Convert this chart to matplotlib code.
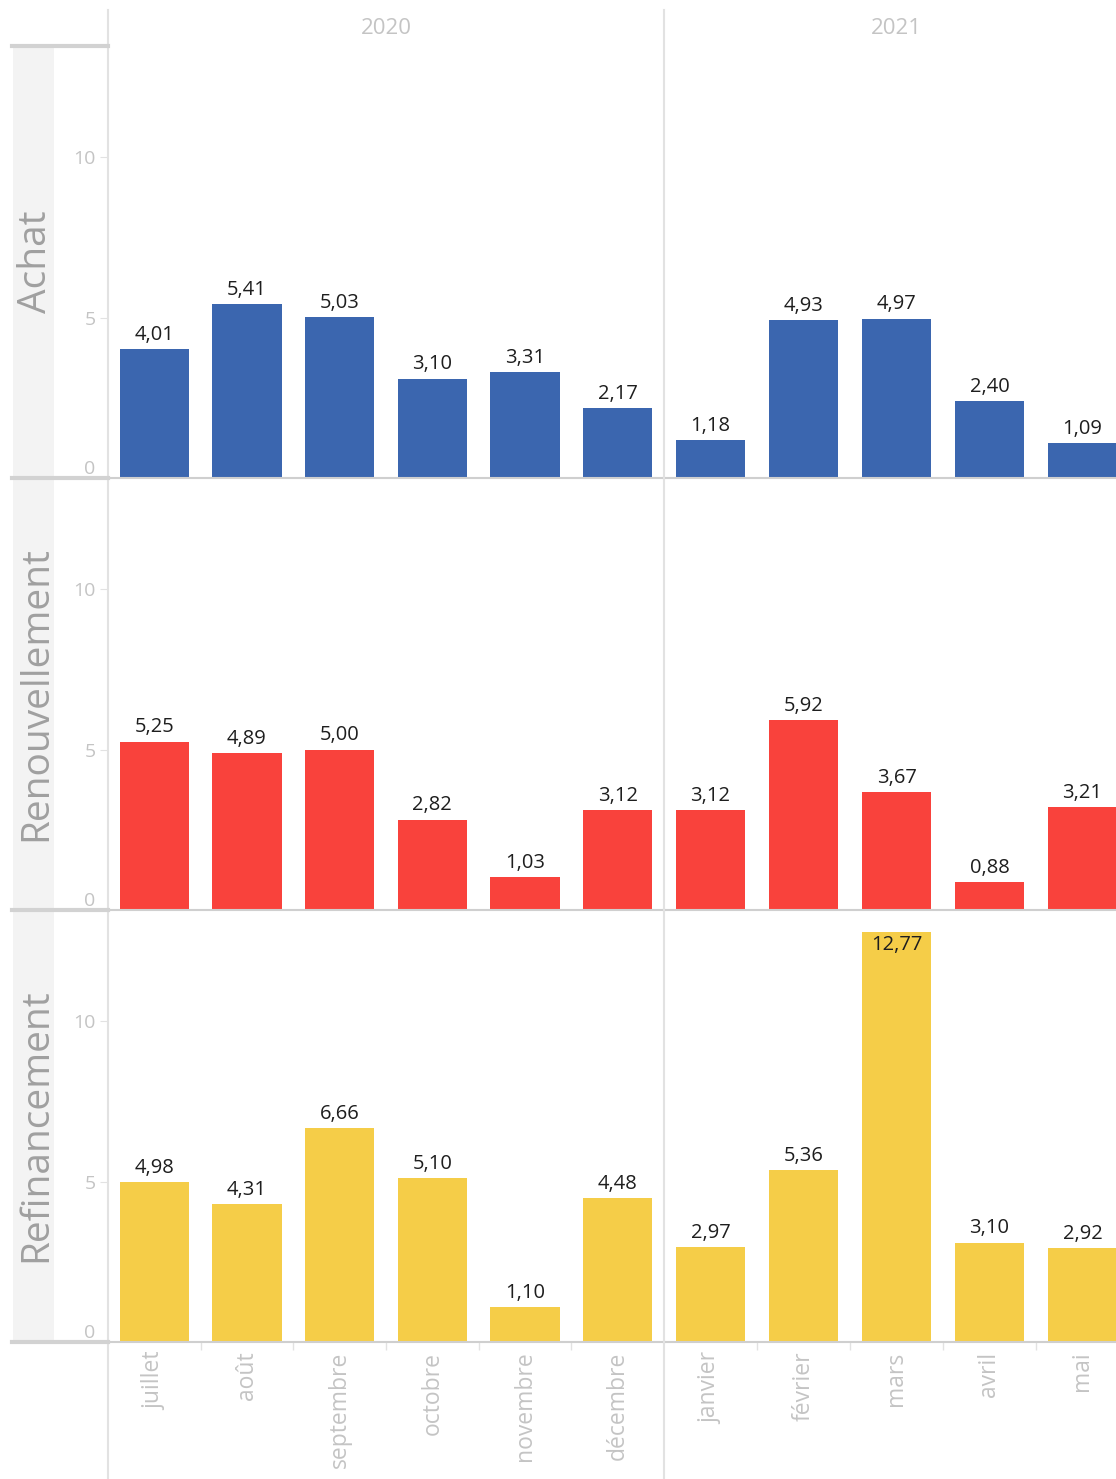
import matplotlib
matplotlib.use("Agg")
import matplotlib.pyplot as plt
from matplotlib.lines import Line2D
from matplotlib.patches import Rectangle

plt.rcParams['font.family'] = ['Open Sans', 'DejaVu Sans']

years = ["2020", "2021"]
months_2020 = ["juillet", "août", "septembre", "octobre", "novembre", "décembre"]
months_2021 = ["janvier", "février", "mars", "avril", "mai"]
rows = ["Achat", "Renouvellement", "Refinancement"]
colors = ["#3B66AF", "#F9423C", "#F5CD48"]

achat_2020 = [4.01, 5.41, 5.03, 3.10, 3.31, 2.17]
achat_2021 = [1.18, 4.93, 4.97, 2.40, 1.09]
renouv_2020 = [5.25, 4.89, 5.00, 2.82, 1.03, 3.12]
renouv_2021 = [3.12, 5.92, 3.67, 0.88, 3.21]
refin_2020 = [4.98, 4.31, 6.66, 5.10, 1.10, 4.48]
refin_2021 = [2.97, 5.36, 12.77, 3.10, 2.92]

yticks = [0, 5, 10]

W, H = 1116, 1479
fig = plt.figure(figsize=(W / 100, H / 100), dpi=100)

data = [[achat_2020, achat_2021], [renouv_2020, renouv_2021], [refin_2020, refin_2021]]
months = [months_2020, months_2021]
col_x = [(108, 664), (664, 1129)]
baselines = [478, 910, 1342]
row_h = 433
ymax = 13.5

grid_c = "#E2E2E2"
txt_c = "#C4C4C4"

# left strip background
fig.add_artist(Rectangle((13 / W, (H - 1342) / H), (54 - 13) / W, (1342 - 47) / H,
                         transform=fig.transFigure, facecolor="#F3F3F3", edgecolor="none", zorder=0))

for r in range(3):
    base = baselines[r]
    for c in range(2):
        x0, x1 = col_x[c]
        ax = fig.add_axes([x0 / W, (H - base) / H, (x1 - x0) / W, row_h / H])
        vals = data[r][c]
        xs = list(range(len(vals)))
        ax.bar(xs, vals, width=0.745, color=colors[r], zorder=2)
        ax.set_xlim(-0.5, len(vals) - 0.5)
        ax.set_ylim(0, ymax)
        for s in ["top", "right", "left"]:
            ax.spines[s].set_visible(False)
        ax.spines["bottom"].set_color("#CFCFCF")
        ax.spines["bottom"].set_linewidth(1.5)
        ax.patch.set_alpha(0)
        for x, v in zip(xs, vals):
            lab = f"{v:.2f}".replace(".", ",")
            if v > 12.3:
                ax.annotate(lab, (x, v), xytext=(0, -2), textcoords="offset points",
                            ha="center", va="top", fontsize=14.5, color="#1E1E1E")
            else:
                ax.annotate(lab, (x, v), xytext=(0, 3), textcoords="offset points",
                            ha="center", va="bottom", fontsize=14.5, color="#1E1E1E")
        if c == 0:
            ax.set_yticks(yticks)
            ax.set_yticklabels([str(t) for t in yticks])
            ax.tick_params(axis="y", length=6, color=grid_c, labelcolor=txt_c,
                           labelsize=14, pad=3)
            t0 = ax.yaxis.get_major_ticks()[0]
            t0.tick1line.set_visible(False)
            t0.label1.set_va("bottom")
        else:
            ax.set_yticks([])
        if r == 2:
            ax.set_xticks(xs)
            ax.set_xticklabels(months[c], rotation=90, va="top", ha="center")
            ax.tick_params(axis="x", which="major", length=0, labelcolor=txt_c,
                           labelsize=16.5, pad=7)
            ax.set_xticks([i + 0.5 for i in xs[:-1]], minor=True)
            ax.tick_params(axis="x", which="minor", length=6, color=grid_c, width=1)
        else:
            ax.set_xticks([])
        if r == 0:
            ax.text(0.5 if c == 0 else (896 - x0) / (x1 - x0), 1 + (45 - 28) / row_h,
                    years[c], transform=ax.transAxes, ha="center", va="center",
                    fontsize=16, color=txt_c)

    # row label
    fig.text(36 / W, (H - (base - row_h / 2)) / H, rows[r], rotation=90,
             ha="center", va="center", fontsize=28, color="#A0A0A0")
    # row separator in left strip
    fig.add_artist(Line2D([12 / W, 108 / W], [(H - base) / H] * 2, transform=fig.transFigure,
                          color="#D2D2D2", linewidth=3, zorder=3))

# top separator
fig.add_artist(Line2D([12 / W, 108 / W], [(H - 46) / H] * 2, transform=fig.transFigure,
                      color="#D2D2D2", linewidth=3, zorder=3))
# vertical separators
for xv in [108, 664]:
    fig.add_artist(Line2D([xv / W, xv / W], [0, (H - 10) / H], transform=fig.transFigure,
                          color=grid_c, linewidth=1.5, zorder=1))

fig.savefig("out.png", dpi=100)
